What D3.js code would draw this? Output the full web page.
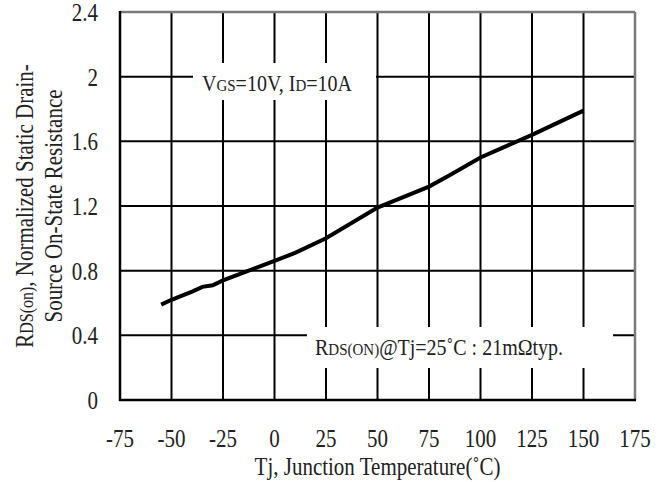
<!DOCTYPE html>
<html>
<head>
<meta charset="utf-8">
<script src="https://cdn.jsdelivr.net/npm/d3@7"></script>
<style>
body{margin:0;background:#fff;}
svg text{font-family:"Liberation Serif","Times New Roman",serif;fill:#222;}
</style>
</head>
<body>
<div id="chart"></div>
<script>
// temperature (C) and normalized Rds(on)
var temps=[-55,-50,-40,-35,-30,-25,0,10,25,50,75,85,100,125,150];
var rdsOn=[0.59,0.62,0.67,0.70,0.71,0.74,0.86,0.91,1.00,1.19,1.32,1.39,1.50,1.64,1.79];
var xTicks=[-75,-50,-25,0,25,50,75,100,125,150,175];
var yTicks=[0,0.4,0.8,1.2,1.6,2,2.4];

var width=665,height=482;
var margin={top:12,right:30,bottom:82,left:120};
var stretch=" scale(1,1.15)"; // the original font has tall glyphs

var svg=d3.select("#chart").append("svg")
    .attr("width",width)
    .attr("height",height);

var x=d3.scaleLinear().domain([-75,175]).range([margin.left,width-margin.right]);
var y=d3.scaleLinear().domain([0,2.4]).range([height-margin.bottom,margin.top]);

// grid
svg.append("g").selectAll("line.v")
    .data(xTicks.slice(1,-1))
    .enter().append("line")
    .attr("x1",function(d){return x(d)}).attr("x2",function(d){return x(d)})
    .attr("y1",y(0)).attr("y2",y(2.4))
    .attr("stroke","#000").attr("stroke-width",2);

svg.append("g").selectAll("line.h")
    .data(yTicks.slice(1,-1))
    .enter().append("line")
    .attr("x1",x(-75)).attr("x2",x(175))
    .attr("y1",function(d){return y(d)}).attr("y2",function(d){return y(d)})
    .attr("stroke","#000").attr("stroke-width",2);

// frame: top/right grey, left/bottom black
svg.append("line").attr("x1",x(-75)).attr("x2",x(175)).attr("y1",y(2.4)).attr("y2",y(2.4))
    .attr("stroke","#7a7a7a").attr("stroke-width",2.5);
svg.append("line").attr("x1",x(175)).attr("x2",x(175)).attr("y1",y(2.4)).attr("y2",y(0))
    .attr("stroke","#7a7a7a").attr("stroke-width",2.5);
svg.append("line").attr("x1",x(-75)).attr("x2",x(-75)).attr("y1",y(2.4)-1).attr("y2",y(0)+1)
    .attr("stroke","#000").attr("stroke-width",2.5);
svg.append("line").attr("x1",x(-75)-1).attr("x2",x(175)+1).attr("y1",y(0)).attr("y2",y(0))
    .attr("stroke","#000").attr("stroke-width",2.5);

// annotation boxes (white background over grid)
function note(x0,y0,w,h,parts,tx,ty){
    svg.append("rect").attr("x",x0).attr("y",y0).attr("width",w).attr("height",h).attr("fill","#fff");
    var t=svg.append("text").attr("transform","translate("+tx+","+ty+")"+stretch).attr("font-size",20);
    parts.forEach(function(p){
        t.append("tspan").attr("font-size",p[1]?15:20).text(p[0]);
    });
}
note(193,63,183,37,[["V"],["GS",1],["=10V, I"],["D",1],["=10A"]],202,91);
note(307,327,306,41,[["R"],["DS(ON)",1],["@Tj=25˚C : 21mΩtyp."]],315,355);

// data line
var line=d3.line()
    .x(function(d,i){return x(temps[i])})
    .y(function(d){return y(d)});

svg.append("path")
    .datum(rdsOn)
    .attr("d",line)
    .attr("fill","none")
    .attr("stroke","#000")
    .attr("stroke-width",4);

// tick labels
svg.append("g").selectAll("text")
    .data(xTicks)
    .enter().append("text")
    .attr("transform",function(d){return "translate("+x(d)+",447)"+stretch})
    .attr("text-anchor","middle")
    .attr("font-size",21)
    .text(function(d){return d});

svg.append("g").selectAll("text")
    .data(yTicks)
    .enter().append("text")
    .attr("transform",function(d){return "translate(98,"+(y(d)+9)+")"+stretch})
    .attr("text-anchor","end")
    .attr("font-size",21)
    .text(function(d){return d});

// axis titles
svg.append("text")
    .attr("transform","translate("+((x(-75)+x(175))/2)+",475)"+stretch)
    .attr("text-anchor","middle")
    .attr("font-size",21)
    .text("Tj, Junction Temperature(˚C)");

var yt=svg.append("text")
    .attr("transform","translate(33,"+((y(0)+y(2.4))/2)+") rotate(-90)"+stretch)
    .attr("text-anchor","middle")
    .attr("font-size",21);
yt.append("tspan").text("R");
yt.append("tspan").attr("font-size",16).text("DS(on)");
yt.append("tspan").text(", Normalized Static Drain-");

svg.append("text")
    .attr("transform","translate(62,"+((y(0)+y(2.4))/2)+") rotate(-90)"+stretch)
    .attr("text-anchor","middle")
    .attr("font-size",21)
    .text("Source On-State Resistance");
</script>
</body>
</html>
